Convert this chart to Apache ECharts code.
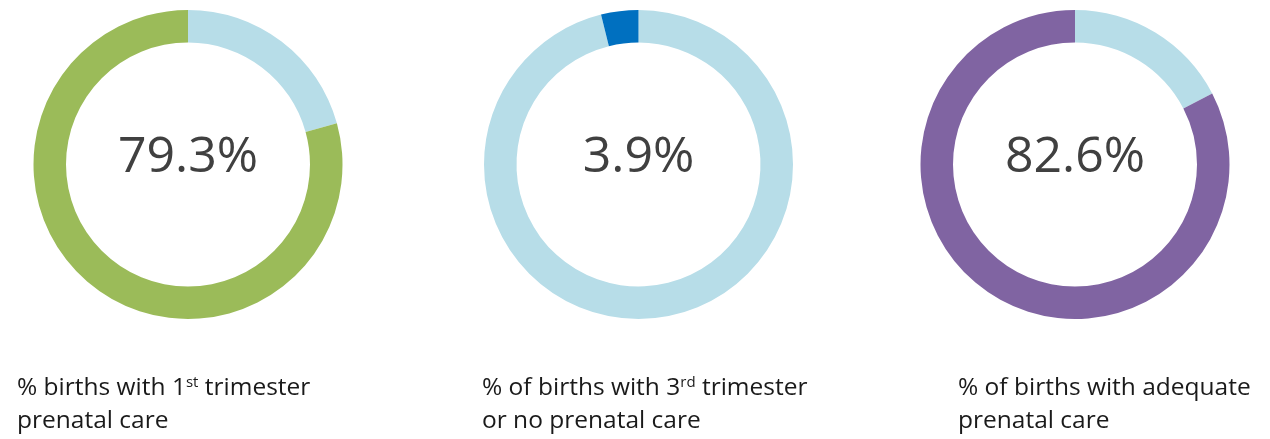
<!DOCTYPE html>
<html>
<head>
<meta charset="utf-8">
<script src="https://cdn.jsdelivr.net/npm/echarts@6/dist/echarts.min.js"></script>
<style>
html,body{margin:0;padding:0;background:#fff;}
#chart{width:1270px;height:439px;}
</style>
</head>
<body>
<div id="chart"></div>
<script>
// ---- data ----
const categories = [
  ['% births with 1', 'st', ' trimester', 'prenatal care'],
  ['% of births with 3', 'rd', ' trimester', 'or no prenatal care'],
  ['% of births with adequate', '', '', 'prenatal care']
];
const values = [79.3, 3.9, 82.6];
const valueColors = ['#9BBB59', '#0070C0', '#8064A2'];
const restColor = '#B7DDE8';

// ---- layout ----
const centersX = [188, 638.5, 1075];
const centerY = 164.5;
const radii = [122, 154.5];
const labelX = [17, 482, 958];
const labelTop = 368;

const chart = echarts.init(document.getElementById('chart'), null, {renderer: 'canvas'});

const series = values.map((v, i) => ({
  type: 'pie',
  center: [centersX[i], centerY],
  radius: radii,
  startAngle: 90,
  clockwise: true,
  silent: true,
  animation: false,
  label: {show: false},
  labelLine: {show: false},
  itemStyle: {borderWidth: 0},
  emphasis: {disabled: true},
  data: [
    {value: +(100 - v).toFixed(1), itemStyle: {color: restColor}},
    {value: v, itemStyle: {color: valueColors[i]}}
  ]
}));

const fontFam = '"Open Sans", "Noto Sans", sans-serif';
const graphics = [];
values.forEach((v, i) => {
  graphics.push({
    type: 'text',
    x: centersX[i],
    y: 158,
    silent: true,
    style: {
      text: v.toFixed(1) + '%',
      fill: '#404040',
      font: '50px ' + fontFam,
      align: 'center',
      verticalAlign: 'middle'
    }
  });
  const c = categories[i];
  let line1 = '{t|' + c[0] + '}';
  if (c[1]) line1 += '{s|' + c[1] + '}';
  if (c[2]) line1 += '{t|' + c[2] + '}';
  graphics.push({
    type: 'text',
    x: labelX[i],
    y: labelTop,
    silent: true,
    style: {
      text: line1 + '\n{t|' + c[3] + '}',
      fill: '#1a1a1a',
      align: 'left',
      verticalAlign: 'top',
      rich: {
        t: {fontSize: 24.5, fontFamily: fontFam, fill: '#1a1a1a', lineHeight: 33, verticalAlign: 'bottom'},
        s: {fontSize: 15, fontFamily: fontFam, fill: '#1a1a1a', lineHeight: 33, verticalAlign: 'top', padding: [7, 0, 0, 0]}
      }
    }
  });
});

chart.setOption({
  animation: false,
  series: series,
  graphic: graphics
});
</script>
</body>
</html>
